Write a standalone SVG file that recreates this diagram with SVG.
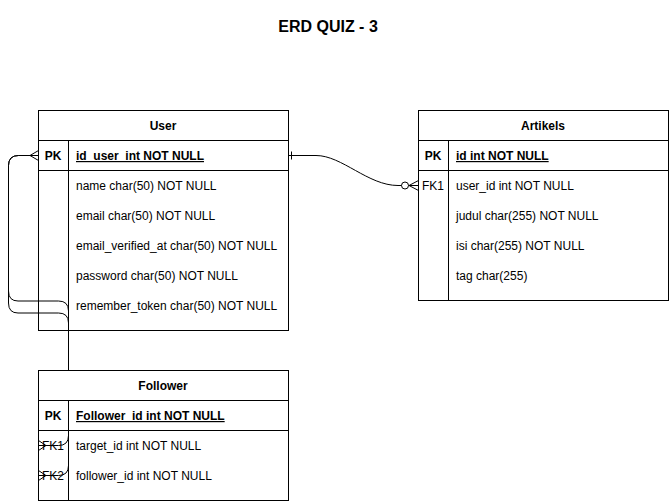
<svg xmlns="http://www.w3.org/2000/svg" width="669" height="501" viewBox="0 0 669 501">
<style>
text{font-family:"Liberation Sans",Arial,sans-serif;font-size:12px;fill:#000}
.title{font-size:16px;font-weight:bold}
.hd{font-weight:bold;text-anchor:middle}
.pk{font-weight:bold;text-anchor:middle}
.fk{text-anchor:middle}
.pkf{font-weight:bold;text-decoration:underline}
.box{fill:#fff;stroke:#000;stroke-width:1}
.open{fill:none;stroke:#000;stroke-width:1}
.ln{stroke:#000;stroke-width:1;fill:none}
.edge{fill:none;stroke:#000;stroke-width:1}
</style>
<rect width="669" height="501" fill="#fff"/>
<text class="title" x="328" y="32" text-anchor="middle">ERD QUIZ - 3</text>

<g id="user">
<rect class="box" x="38.5" y="110.5" width="250" height="220"/>
<path class="ln" d="M38.5,140.5H288.5M38.5,170.5H288.5M68.5,140.5V330.5"/>
<text class="hd" x="163" y="130">User</text>
<text class="pk" x="53" y="160">PK</text>
<text class="pkf" x="76" y="160" xml:space="preserve">id_user  int NOT NULL</text>
<text x="76" y="190">name char(50) NOT NULL</text>
<text x="76" y="220">email char(50) NOT NULL</text>
<text x="76" y="250">email_verified_at char(50) NOT NULL</text>
<text x="76" y="280">password char(50) NOT NULL</text>
<text x="76" y="310">remember_token char(50) NOT NULL</text>
</g>

<g id="artikels">
<rect class="box" x="418.5" y="110.5" width="250" height="190"/>
<path class="ln" d="M418.5,140.5H668.5M418.5,170.5H668.5M448.5,140.5V300.5"/>
<text class="hd" x="543" y="130">Artikels</text>
<text class="pk" x="433" y="160">PK</text>
<text class="pkf" x="456" y="160">id int NOT NULL</text>
<text class="fk" x="433" y="190">FK1</text>
<text x="456" y="190">user_id int NOT NULL</text>
<text x="456" y="220">judul char(255) NOT NULL</text>
<text x="456" y="250">isi char(255) NOT NULL</text>
<text x="456" y="280">tag char(255)</text>
</g>

<g id="connectors">
<path class="edge" d="M288.5,155.5H316C342,155.5 368,185.5 398,185.5H418.5"/>
<path class="edge" d="M291.5,151.5V159.5"/>
<circle cx="405" cy="185.5" r="3.5" fill="#fff" stroke="#000" stroke-width="1"/>
<path class="edge" d="M418.5,180.5L409,185.5L418.5,190.5"/>

<path class="edge" d="M38.5,445.5H58.5Q68.5,445.5 68.5,435.5V311Q68.5,301 58.5,301H18Q8.5,301 8.5,291V165.5Q8.5,155.5 18.5,155.5H38.5"/>
<path class="edge" d="M38.5,475.5H58.5Q68.5,475.5 68.5,465.5V323Q68.5,313 58.5,313H18Q8.5,313 8.5,303V165.5Q8.5,155.5 18.5,155.5H38.5"/>
<path class="edge" d="M38.5,150.5L30,155.5L38.5,160.5"/>
<path class="edge" d="M38.5,440.5L46,445.5L38.5,450.5"/>
<path class="edge" d="M38.5,470.5L46,475.5L38.5,480.5"/>
</g>

<g id="follower">
<rect class="open" x="38.5" y="370.5" width="250" height="130"/>
<rect class="box" x="38.5" y="370.5" width="250" height="30"/>
<path class="ln" d="M38.5,430.5H288.5M68.5,400.5V500.5"/>
<text class="hd" x="163" y="390">Follower</text>
<text class="pk" x="53" y="420">PK</text>
<text class="pkf" x="76" y="420">Follower_id int NOT NULL</text>
<text class="fk" x="53" y="450">FK1</text>
<text x="76" y="450">target_id int NOT NULL</text>
<text class="fk" x="53" y="480">FK2</text>
<text x="76" y="480">follower_id int NOT NULL</text>
</g>
</svg>
